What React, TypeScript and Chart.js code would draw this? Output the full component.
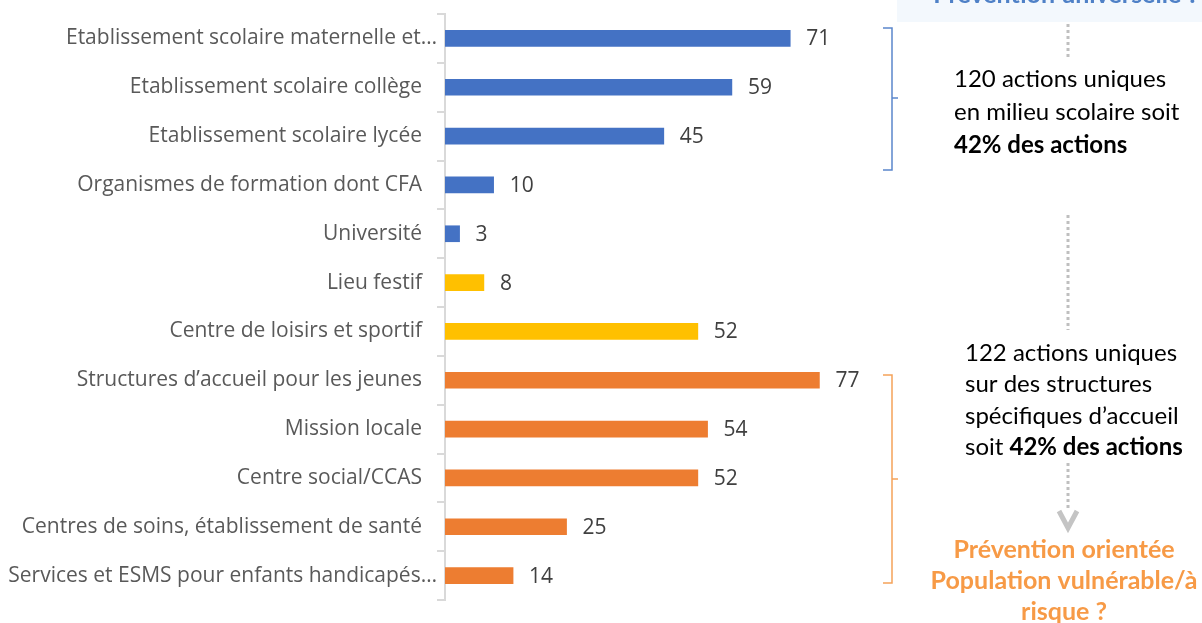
import React, { useEffect, useRef } from "react";
import { Chart, registerables } from "chart.js";

Chart.register(...registerables);

const categories = [
  "Etablissement scolaire maternelle et…",
  "Etablissement scolaire collège",
  "Etablissement scolaire lycée",
  "Organismes de formation dont CFA",
  "Université",
  "Lieu festif",
  "Centre de loisirs et sportif",
  "Structures d’accueil pour les jeunes",
  "Mission locale",
  "Centre social/CCAS",
  "Centres de soins, établissement de santé",
  "Services et ESMS pour enfants handicapés…",
];
const values = [71, 59, 45, 10, 3, 8, 52, 77, 54, 52, 25, 14];
const groups = ["school", "school", "school", "school", "school", "leisure", "leisure", "vuln", "vuln", "vuln", "vuln", "vuln"];
const groupColors: Record<string, string> = { school: "#4472C4", leisure: "#FFC000", vuln: "#ED7D31" };

const topTitle = "Prévention universelle ?";
const block1 = ["120 actions uniques", "en milieu scolaire soit"];
const block1Bold = "42% des actions";
const block2 = ["122 actions uniques", "sur des structures", "spécifiques d’accueil"];
const block2Pre = "soit ";
const block2Bold = "42% des actions";
const bottomTitle = ["Prévention orientée", "Population vulnérable/à", "risque ?"];

const LABEL_FONT = "'Open Sans', sans-serif";
const NOTE_FONT = "Lato, sans-serif";

// Truncated (ellipsis) labels sit closer to the axis, as in the reference
const ellipsisShift = {
  id: "ellipsisShift",
  beforeDraw(chart: any) {
    const items = chart.scales.y.getLabelItems();
    items.forEach((it: any) => {
      const lbl = String(it.label);
      if (lbl.endsWith("…") && !it._shifted) {
        it.options.translation[0] += 15;
        it._shifted = true;
      }
    });
  },
};

const annotations = {
  id: "annotations",
  afterDraw(chart: any) {
    const ctx = chart.ctx as CanvasRenderingContext2D;
    const x = chart.scales.x;
    const y = chart.scales.y;
    ctx.save();
    // value labels
    ctx.font = `21px ${LABEL_FONT}`;
    ctx.fillStyle = "#404040";
    ctx.textAlign = "left";
    ctx.textBaseline = "middle";
    values.forEach((v, i) => {
      ctx.fillText(String(v), x.getPixelForValue(v) + 16, y.getPixelForValue(i) + 1);
    });

    // top box
    ctx.fillStyle = "#F3F8FD";
    ctx.fillRect(897, 0, 305, 22);
    ctx.fillStyle = "#4F81C7";
    ctx.font = `bold 25px ${NOTE_FONT}`;
    ctx.textAlign = "center";
    ctx.textBaseline = "alphabetic";
    ctx.fillText(topTitle, 1066, 3);

    // dotted lines
    ctx.strokeStyle = "#BFBFBF";
    ctx.lineWidth = 3;
    ctx.setLineDash([3, 3]);
    const dotted = (y1: number, y2: number) => {
      ctx.beginPath();
      ctx.moveTo(1068, y1);
      ctx.lineTo(1068, y2);
      ctx.stroke();
    };
    dotted(24, 58);
    dotted(215, 330);
    dotted(463, 510);
    ctx.setLineDash([]);
    // arrow head
    ctx.strokeStyle = "#C4C4C4";
    ctx.lineWidth = 5;
    ctx.lineJoin = "miter";
    ctx.beginPath();
    ctx.moveTo(1059, 511);
    ctx.lineTo(1068, 528);
    ctx.lineTo(1077, 511);
    ctx.stroke();

    // brackets
    const bracket = (yTop: number, yBot: number, yMid: number, color: string) => {
      ctx.strokeStyle = color;
      ctx.lineWidth = 1.5;
      ctx.beginPath();
      ctx.moveTo(883, yTop);
      ctx.lineTo(892, yTop);
      ctx.lineTo(892, yBot);
      ctx.lineTo(883, yBot);
      ctx.moveTo(892, yMid);
      ctx.lineTo(898, yMid);
      ctx.stroke();
    };
    bracket(28, 170, 98, "#5B86CC");
    bracket(375, 583, 479, "#F5A25A");

    // block 1
    ctx.fillStyle = "#000000";
    ctx.textAlign = "left";
    ctx.textBaseline = "middle";
    ctx.font = `24px ${NOTE_FONT}`;
    block1.forEach((t, i) => ctx.fillText(t, 954, 79 + i * 33));
    ctx.font = `bold 24px ${NOTE_FONT}`;
    ctx.fillText(block1Bold, 954, 145);

    // block 2
    ctx.font = `24px ${NOTE_FONT}`;
    block2.forEach((t, i) => ctx.fillText(t, 965, 353 + i * 31.5));
    ctx.fillText(block2Pre, 965, 447);
    const w = ctx.measureText(block2Pre).width;
    ctx.font = `bold 24px ${NOTE_FONT}`;
    ctx.fillText(block2Bold, 965 + w, 447);

    // bottom title
    ctx.fillStyle = "#F79A46";
    ctx.textAlign = "center";
    ctx.font = `bold 25px ${NOTE_FONT}`;
    bottomTitle.forEach((t, i) => ctx.fillText(t, 1064, 550 + i * 31));
    ctx.restore();
  },
};

export default function App() {
  const ref = useRef<HTMLCanvasElement>(null);
  useEffect(() => {
    document.body.style.margin = "0";
    const chart = new Chart(ref.current!, {
      type: "bar",
      data: {
        labels: categories,
        datasets: [
          {
            data: values,
            backgroundColor: groups.map((g) => groupColors[g]),
            barThickness: 16,
          },
        ],
      },
      options: {
        indexAxis: "y",
        responsive: false,
        animation: false,
        layout: { padding: { left: 0, right: 368, top: 14, bottom: 23 } },
        plugins: { legend: { display: false }, tooltip: { enabled: false } },
        scales: {
          x: { display: false, min: 0, max: 80 },
          y: {
            afterFit(scale: any) {
              scale.width = 445;
              scale.paddingTop = 0;
              scale.paddingBottom = 0;
            },
            border: { color: "#D9D9D9", width: 2 },
            grid: { drawOnChartArea: false, drawTicks: true, tickLength: 8, color: "#D9D9D9", lineWidth: 2 },
            ticks: { padding: 15, color: "#595959", font: { family: LABEL_FONT, size: 21 } },
          },
        },
      },
      plugins: [ellipsisShift, annotations],
    });
    return () => chart.destroy();
  }, []);
  return (
    <div style={{ position: "absolute", left: 0, top: 0, width: 1202, height: 623 }}>
      <canvas ref={ref} width={1202} height={623} />
    </div>
  );
}
